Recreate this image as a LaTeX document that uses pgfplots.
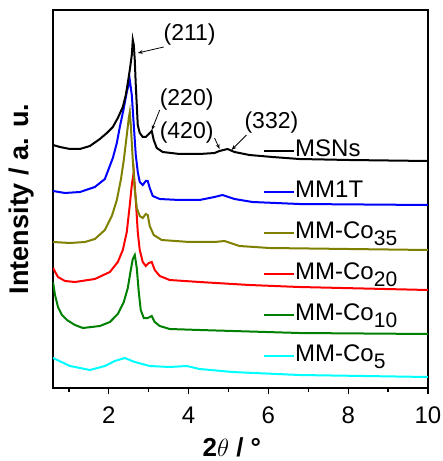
\documentclass[border=0pt]{standalone}
\usepackage{fontspec}
\setmainfont{Liberation Sans}
\usepackage{pgfplots}
\pgfplotsset{compat=1.18}
\usetikzlibrary{arrows.meta}
\definecolor{olivec}{RGB}{128,128,0}
\definecolor{greenc}{RGB}{0,128,0}
\definecolor{cyanc}{RGB}{0,255,255}
\newcommand{\sub}[1]{\raisebox{-7pt}{\fontsize{21}{21}\selectfont #1}}

\begin{document}
\begin{tikzpicture}
\useasboundingbox (-53pt,-73pt) rectangle (390pt,388pt);
\begin{axis}[
  at={(0pt,0pt)}, anchor=south west,
  scale only axis, width=375pt, height=378pt,
  xmin=0.6, xmax=10, ymin=0, ymax=378,
  xtick={2,4,6,8,10}, minor xtick={1,3,5,7,9},
  ytick=\empty,
  xtick pos=bottom, tick align=outside,
  major tick length=6pt, minor tick length=4pt,
  axis line style={line width=1.6pt},
  every tick/.style={line width=1.3pt, black},
  /pgf/number format/assume math mode=true,
  tick label style={font=\fontsize{24}{24}\selectfont},
  xticklabel style={yshift=-9pt},
  xlabel={\textbf{2}$\theta$\textbf{ / °}},
  xlabel style={font=\fontsize{26}{26}\selectfont, at={(axis description cs:0.477,-0.156)}, anchor=center},
  ylabel={\textbf{Intensity / a. u.}},
  ylabel style={font=\fontsize{27}{27}\selectfont, at={(axis description cs:-0.083,0.5)}, anchor=center, rotate=0},
  legend style={draw=none, fill=none, font=\fontsize{24}{24}\selectfont,
    at={(axis description cs:0.56,0.658)}, anchor=north west,
    row sep=19pt, inner sep=0pt,
    /tikz/every even column/.append style={column sep=8pt},
    nodes={inner sep=0pt, text height=17pt, text depth=5pt}},
  legend cell align=left,
  legend image code/.code={\draw[#1, line width=2pt] (0pt,-0.6pt) -- (30pt,-0.6pt);},
  reverse legend,
  every axis plot/.append style={line width=2pt},
]
% MM-Co5
\addplot[cyanc] coordinates {
  (0.6,30) (1.025,22) (1.525,18) (1.9,22) (2.15,27) (2.4,30) (2.65,26)
  (3.025,22) (3.525,21) (3.95,22) (4.275,19) (5.1,16) (6.775,13) (10,11)
};
\addlegendentry{MM-Co\sub{5}}
% MM-Co10
\addplot[greenc] coordinates {
  (0.6,106) (0.65,93) (0.725,81) (0.825,73) (0.95,68) (1.15,63) (1.35,60)
  (1.775,62) (2.025,66) (2.225,74) (2.375,86) (2.475,100) (2.55,118) (2.6,129)
  (2.65,133) (2.7,120) (2.75,96) (2.8,78) (2.875,70) (2.975,70) (3.075,72)
  (3.15,66) (3.275,62) (3.525,59) (4.275,58) (6.775,55) (10,54)
};
\addlegendentry{MM-Co\sub{10}}
% MM-Co20
\addplot[red] coordinates {
  (0.6,120) (0.725,111) (0.9,107) (1.15,106) (1.65,109) (2.025,116) (2.225,126)
  (2.35,138) (2.45,156) (2.525,183) (2.575,203) (2.625,216) (2.675,188) (2.725,156)
  (2.775,138) (2.85,126) (2.925,122) (3.0,125) (3.075,126) (3.15,118) (3.275,112)
  (3.525,108) (4.275,106) (5.525,103) (6.775,101) (10,98)
};
\addlegendentry{MM-Co\sub{20}}
% MM-Co35
\addplot[olivec] coordinates {
  (0.6,146) (1.025,145) (1.4,146) (1.65,149) (1.9,158) (2.075,172) (2.2,188)
  (2.3,208) (2.375,228) (2.45,253) (2.5,270) (2.525,276) (2.55,263) (2.6,228)
  (2.65,198) (2.7,180) (2.775,172) (2.85,170) (2.925,174) (2.975,173) (3.025,162)
  (3.125,153) (3.325,148) (4.025,146) (4.65,146) (4.9,147) (5.275,142) (6.025,140)
  (10,138)
};
\addlegendentry{MM-Co\sub{35}}
% MM1T
\addplot[blue] coordinates {
  (0.6,197) (0.9,195) (1.275,196) (1.65,201) (1.9,209) (2.1,230) (2.2,245)
  (2.275,261) (2.375,280) (2.45,296) (2.525,308) (2.575,293) (2.625,263) (2.675,233)
  (2.725,216) (2.775,206) (2.85,203) (2.925,207) (2.975,207) (3.025,200) (3.1,192)
  (3.275,189) (3.775,188) (4.275,188) (4.65,191) (4.85,193) (5.15,189) (5.6,186)
  (6.775,184) (10,183)
};
\addlegendentry{MM1T}
% MSNs
\addplot[black] coordinates {
  (0.6,243) (0.775,241) (1.025,239) (1.275,239) (1.525,242) (1.775,249) (1.95,255)
  (2.1,261) (2.225,270) (2.35,281) (2.425,293) (2.475,305) (2.525,318) (2.575,333)
  (2.6,348) (2.625,343) (2.65,328) (2.675,303) (2.7,283) (2.725,263) (2.775,255)
  (2.85,251) (2.925,251) (3.0,254) (3.075,257) (3.125,248) (3.2,240) (3.35,236)
  (3.775,234) (4.275,234) (4.65,235) (4.775,237) (4.975,239) (5.15,236) (5.525,233)
  (6.1,231) (6.775,229) (8.025,228) (10,227)
};
\addlegendentry{MSNs}

% peak labels
\node[font=\fontsize{23}{23}\selectfont] at (axis cs:4.025,353) {(211)};
\draw[-{Stealth[length=5pt]}, line width=0.8pt] (axis cs:3.375,341) -- (axis cs:2.725,335);
\node[font=\fontsize{23}{23}\selectfont] at (axis cs:3.95,288) {(220)};
\draw[-{Stealth[length=5pt]}, line width=0.8pt] (axis cs:3.275,278) -- (axis cs:3.075,258);
\node[font=\fontsize{23}{23}\selectfont] at (axis cs:3.95,255) {(420)};
\draw[-{Stealth[length=5pt]}, line width=0.8pt] (axis cs:4.65,250) -- (axis cs:4.775,239);
\node[font=\fontsize{23}{23}\selectfont] at (axis cs:6.075,265) {(332)};
\draw[-{Stealth[length=5pt]}, line width=0.8pt] (axis cs:5.45,253) -- (axis cs:5.075,238);
\end{axis}
\end{tikzpicture}
\end{document}
